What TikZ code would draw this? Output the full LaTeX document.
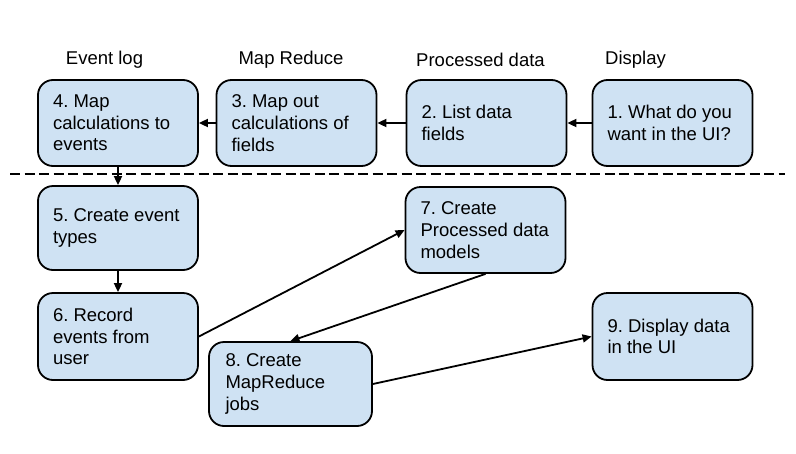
\documentclass[tikz,border=0pt]{standalone}
\usepackage{fontspec}
\setmainfont{Liberation Sans}
\usetikzlibrary{arrows.meta}
\definecolor{boxfill}{HTML}{CFE2F3}
\frenchspacing
\begin{document}
\begin{tikzpicture}[x=1pt,y=-1pt,
  stepbox/.style={draw=black, line width=1.8pt, fill=boxfill, rounded corners=15pt,
    text width=130pt, inner xsep=15pt, inner ysep=0pt, align=flush left,
    minimum width=160pt, font=\fontsize{18.5}{21.7}\selectfont},
  header/.style={font=\fontsize{18.5}{21.7}\selectfont, inner sep=0pt},
  conn/.style={line width=1.8pt, -{Triangle[length=9pt,width=8pt]}}]
\useasboundingbox (0,0) rectangle (796,453);
\node[header] (h4) at (104.5,60) {Event log};
\node[header] (h3) at (291,60) {Map Reduce};
\node[header] (h2) at (480.5,60) {Processed data};
\node[header] (h1) at (635.5,60) {Display};

\node[stepbox, minimum height=86pt] (b4) at (118,123) {4. Map\\calculations to\\events};
\node[stepbox, minimum height=86pt] (b3) at (296.5,123) {3. Map out\\calculations of\\fields};
\node[stepbox, minimum height=86pt] (b2) at (486.5,123) {2. List data\\fields};
\node[stepbox, minimum height=86pt] (b1) at (672.5,123) {1. What do you\\want in the UI?};

\coordinate (dl) at (10,174);
\coordinate (dr) at (785,174);
\draw[line width=1.8pt, dash pattern=on 10pt off 4.5pt] (dl) -- (dr);

\node[stepbox, minimum height=84pt] (b5) at (118,228) {5. Create event\\types};
\node[stepbox, minimum height=87pt] (b6) at (118,336.5) {6. Record\\events from\\user};
\node[stepbox, minimum height=86pt] (b7) at (485.5,230) {7. Create\\Processed data\\models};
\node[stepbox, minimum height=84pt, minimum width=163pt] (b8) at (290.5,384) {8. Create\\MapReduce\\jobs};
\node[stepbox, minimum height=87pt] (b9) at (672.5,336.5) {9. Display data\\in the UI};

\draw[conn] (b1.west) -- (b2.east);
\draw[conn] (b2.west) -- (b3.east);
\draw[conn] (b3.west) -- (b4.east);
\draw[conn] (b4.south) -- (b5.north);
\draw[conn] (b5.south) -- (b6.north);
\draw[conn] (b6.east) -- (b7.west);
\draw[conn] (b7.south) -- (b8.north);
\draw[conn] (b8.east) -- (b9.west);
\end{tikzpicture}
\end{document}
